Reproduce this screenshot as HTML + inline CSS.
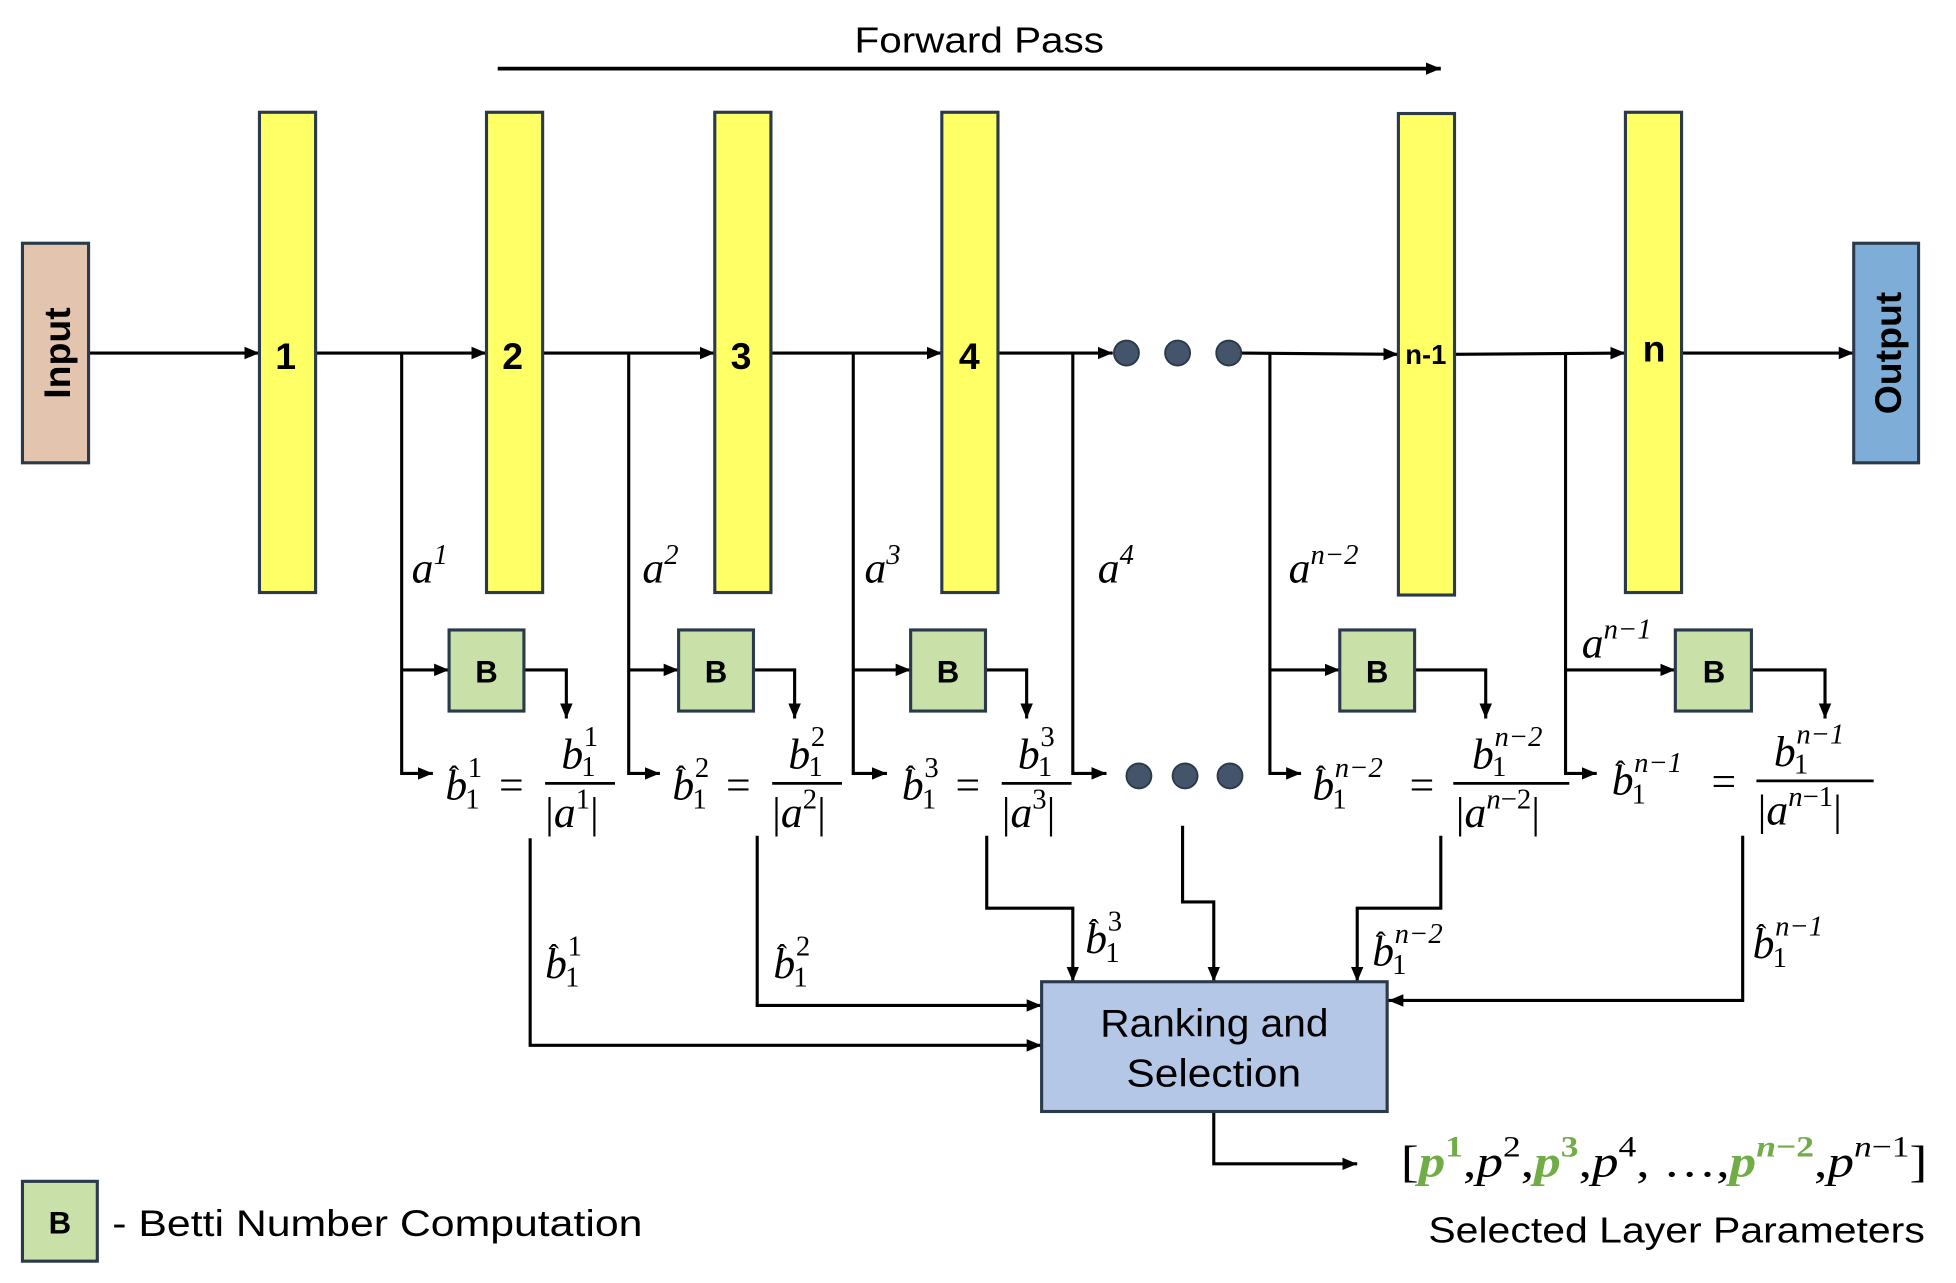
<!DOCTYPE html>
<html><head><meta charset="utf-8">
<style>
html,body{margin:0;padding:0;background:#fff;}
svg{display:block;}
.s{font-family:"Liberation Sans",sans-serif;}
.m{font-family:"Liberation Serif",serif;font-style:italic;}
.r{font-family:"Liberation Serif",serif;}
</style></head>
<body>
<svg width="1956" height="1283" viewBox="0 0 1568 1028.5" preserveAspectRatio="none" xmlns="http://www.w3.org/2000/svg">
<defs>
<marker id="a" markerUnits="userSpaceOnUse" markerWidth="14" markerHeight="14" refX="12" refY="7" orient="auto">
<path d="M0,2 L12,7 L0,12 Z" fill="#000"/>
</marker>
</defs>
<g stroke="#000" stroke-width="2.5" fill="none">
<line x1="399" y1="55" x2="1155" y2="55" stroke-width="3" marker-end="url(#a)"/>
<line x1="71" y1="283" x2="208" y2="283" marker-end="url(#a)"/>
<line x1="253" y1="283" x2="390" y2="283" marker-end="url(#a)"/>
<line x1="435" y1="283" x2="573" y2="283" marker-end="url(#a)"/>
<line x1="618" y1="283" x2="755" y2="283" marker-end="url(#a)"/>
<line x1="800" y1="283" x2="892" y2="283" marker-end="url(#a)"/>
<line x1="995" y1="283" x2="1121" y2="284" marker-end="url(#a)"/>
<line x1="1166" y1="284" x2="1303" y2="283" marker-end="url(#a)"/>
<line x1="1348" y1="283" x2="1486" y2="283" marker-end="url(#a)"/>
<polyline points="322,283 322,620 347,620" marker-end="url(#a)"/>
<polyline points="322,537 360,537" marker-end="url(#a)"/>
<polyline points="420,537 454,537 454,576" marker-end="url(#a)"/>
<polyline points="504,283 504,620 529,620" marker-end="url(#a)"/>
<polyline points="504,537 544,537" marker-end="url(#a)"/>
<polyline points="604,537 637,537 637,576" marker-end="url(#a)"/>
<polyline points="684,283 684,620 711,620" marker-end="url(#a)"/>
<polyline points="684,537 730,537" marker-end="url(#a)"/>
<polyline points="790,537 823,537 823,576" marker-end="url(#a)"/>
<polyline points="860,283 860,620 887,620" marker-end="url(#a)"/>
<polyline points="1018,283 1018,620 1043,620" marker-end="url(#a)"/>
<polyline points="1018,537 1074,537" marker-end="url(#a)"/>
<polyline points="1134,537 1191,537 1191,576" marker-end="url(#a)"/>
<polyline points="1255,283 1255,620 1280,620" marker-end="url(#a)"/>
<polyline points="1255,537 1343,537" marker-end="url(#a)"/>
<polyline points="1404,537 1463,537 1463,576" marker-end="url(#a)"/>
<polyline points="425,672 425,838 835,838" marker-end="url(#a)"/>
<polyline points="607,670 607,806 835,806" marker-end="url(#a)"/>
<polyline points="791,670 791,728 860,728 860,787" marker-end="url(#a)"/>
<polyline points="948,662 948,723 973,723 973,787" marker-end="url(#a)"/>
<polyline points="1155,670 1155,728 1088,728 1088,787" marker-end="url(#a)"/>
<polyline points="1397,670 1397,802 1113,802" marker-end="url(#a)"/>
<polyline points="973,891 973,933 1088,933" marker-end="url(#a)"/>
</g>
<g stroke="#2A3A4A" stroke-width="2.5">
<rect x="18" y="195" width="53" height="176" fill="#E3C4AE"/>
<rect x="1486" y="195" width="52" height="176" fill="#7EAED8"/>
<rect x="208" y="90" width="45" height="385" fill="#FFFF66"/>
<rect x="390" y="90" width="45" height="385" fill="#FFFF66"/>
<rect x="573" y="90" width="45" height="385" fill="#FFFF66"/>
<rect x="755" y="90" width="45" height="385" fill="#FFFF66"/>
<rect x="1121" y="91" width="45" height="386" fill="#FFFF66"/>
<rect x="1303" y="90" width="45" height="385" fill="#FFFF66"/>
<rect x="360" y="505" width="60" height="65" fill="#C9E0A8"/>
<rect x="544" y="505" width="60" height="65" fill="#C9E0A8"/>
<rect x="730" y="505" width="60" height="65" fill="#C9E0A8"/>
<rect x="1074" y="505" width="60" height="65" fill="#C9E0A8"/>
<rect x="1343" y="505" width="61" height="65" fill="#C9E0A8"/>
<rect x="18" y="947" width="60" height="64" fill="#C9E0A8"/>
<rect x="835" y="787" width="277" height="104" fill="#B4C7E7"/>
</g>
<g fill="#44546A" stroke="#2A3A4A" stroke-width="1.5">
<circle cx="903" cy="283" r="10"/><circle cx="944" cy="283" r="10"/><circle cx="985" cy="283" r="10"/>
<circle cx="913" cy="622" r="10"/><circle cx="950" cy="622" r="10"/><circle cx="986" cy="622" r="10"/>
</g>
<g class="s" fill="#000">
<text x="685" y="42" font-size="29" textLength="200" lengthAdjust="spacingAndGlyphs">Forward Pass</text>
<text transform="translate(56,283) rotate(-90)" font-size="30" font-weight="bold" text-anchor="middle">Input</text>
<text transform="translate(1524,283) rotate(-90)" font-size="30" font-weight="bold" text-anchor="middle">Output</text>
<g font-weight="bold" font-size="30" text-anchor="middle">
<text x="229" y="296">1</text><text x="411" y="296">2</text><text x="594" y="296">3</text><text x="777" y="296">4</text>
<text x="1143" y="292" font-size="22">n-1</text><text x="1326" y="290">n</text>
<text x="390" y="547" font-size="25">B</text><text x="574" y="547" font-size="25">B</text><text x="760" y="547" font-size="25">B</text>
<text x="1104" y="547" font-size="25">B</text><text x="1374" y="547" font-size="25">B</text><text x="48" y="989" font-size="25">B</text>
</g>
<text x="90" y="991" font-size="30" textLength="425" lengthAdjust="spacingAndGlyphs">- Betti Number Computation</text>
<text x="882" y="831" font-size="31" textLength="183" lengthAdjust="spacingAndGlyphs">Ranking and</text>
<text x="903" y="871" font-size="31" textLength="140" lengthAdjust="spacingAndGlyphs">Selection</text>
<text x="1145" y="996" font-size="29" textLength="398" lengthAdjust="spacingAndGlyphs">Selected Layer Parameters</text>
</g>
<g fill="#000" font-size="35">
<text class="m" x="330" y="467">a<tspan dy="-15" font-size="23" class="r">1</tspan></text>
<text class="m" x="515" y="467">a<tspan dy="-15" font-size="23" class="r">2</tspan></text>
<text class="m" x="693" y="467">a<tspan dy="-15" font-size="23" class="r">3</tspan></text>
<text class="m" x="880" y="467">a<tspan dy="-15" font-size="23" class="r">4</tspan></text>
<text class="m" x="1033" y="467">a<tspan dy="-15" font-size="23">n</tspan><tspan font-size="23" class="r">−2</tspan></text>
<text class="m" x="1268" y="527">a<tspan dy="-15" font-size="23">n</tspan><tspan font-size="23" class="r">−1</tspan></text>

<g>
<text class="m" x="357" y="641">b</text><text class="r" x="360" y="630" font-size="24">ˆ</text>
<text class="r" x="375" y="623" font-size="23">1</text><text class="r" x="373" y="648" font-size="23">1</text>
<text class="r" x="400" y="641">=</text>
<line x1="437" y1="628" x2="493" y2="628" stroke="#000" stroke-width="2.2"/>
<text class="m" x="450" y="616">b</text><text class="r" x="468" y="598" font-size="23">1</text><text class="r" x="466" y="622" font-size="23">1</text>
<text class="r" x="437" y="663">|<tspan class="m">a</tspan><tspan dy="-15" font-size="23">1</tspan><tspan dy="15">|</tspan></text>
</g>
<g transform="translate(182,0)">
<text class="m" x="357" y="641">b</text><text class="r" x="360" y="630" font-size="24">ˆ</text>
<text class="r" x="375" y="623" font-size="23">2</text><text class="r" x="373" y="648" font-size="23">1</text>
<text class="r" x="400" y="641">=</text>
<line x1="437" y1="628" x2="493" y2="628" stroke="#000" stroke-width="2.2"/>
<text class="m" x="450" y="616">b</text><text class="r" x="468" y="598" font-size="23">2</text><text class="r" x="466" y="622" font-size="23">1</text>
<text class="r" x="437" y="663">|<tspan class="m">a</tspan><tspan dy="-15" font-size="23">2</tspan><tspan dy="15">|</tspan></text>
</g>
<g transform="translate(366,0)">
<text class="m" x="357" y="641">b</text><text class="r" x="360" y="630" font-size="24">ˆ</text>
<text class="r" x="375" y="623" font-size="23">3</text><text class="r" x="373" y="648" font-size="23">1</text>
<text class="r" x="400" y="641">=</text>
<line x1="437" y1="628" x2="493" y2="628" stroke="#000" stroke-width="2.2"/>
<text class="m" x="450" y="616">b</text><text class="r" x="468" y="598" font-size="23">3</text><text class="r" x="466" y="622" font-size="23">1</text>
<text class="r" x="437" y="663">|<tspan class="m">a</tspan><tspan dy="-15" font-size="23">3</tspan><tspan dy="15">|</tspan></text>
</g>
<g>
<text class="m" x="1052" y="641">b</text><text class="r" x="1055" y="630" font-size="24">ˆ</text>
<text class="m" x="1070" y="623" font-size="23">n<tspan class="r">−2</tspan></text><text class="r" x="1068" y="648" font-size="23">1</text>
<text class="r" x="1130" y="641">=</text>
<line x1="1165" y1="628" x2="1258" y2="628" stroke="#000" stroke-width="2.2"/>
<text class="m" x="1180" y="616">b</text><text class="m" x="1198" y="598" font-size="23">n<tspan class="r">−2</tspan></text><text class="r" x="1196" y="622" font-size="23">1</text>
<text class="r" x="1167" y="663">|<tspan class="m">a</tspan><tspan dy="-15" font-size="23" class="m">n</tspan><tspan font-size="23">−2</tspan><tspan dy="15">|</tspan></text>
</g>
<g>
<text class="m" x="1292" y="637">b</text><text class="r" x="1295" y="626" font-size="24">ˆ</text>
<text class="m" x="1310" y="619" font-size="23">n<tspan class="r">−1</tspan></text><text class="r" x="1308" y="644" font-size="23">1</text>
<text class="r" x="1372" y="638">=</text>
<line x1="1408" y1="626" x2="1502" y2="626" stroke="#000" stroke-width="2.2"/>
<text class="m" x="1422" y="614">b</text><text class="m" x="1440" y="596" font-size="23">n<tspan class="r">−1</tspan></text><text class="r" x="1438" y="620" font-size="23">1</text>
<text class="r" x="1409" y="661">|<tspan class="m">a</tspan><tspan dy="-15" font-size="23" class="m">n</tspan><tspan font-size="23">−1</tspan><tspan dy="15">|</tspan></text>
</g>
<g>
<text class="m" x="437" y="784">b</text><text class="r" x="440" y="773" font-size="24">ˆ</text><text class="r" x="455" y="766" font-size="23">1</text><text class="r" x="453" y="791" font-size="23">1</text>
<text class="m" x="620" y="784">b</text><text class="r" x="623" y="773" font-size="24">ˆ</text><text class="r" x="638" y="766" font-size="23">2</text><text class="r" x="636" y="791" font-size="23">1</text>
<text class="m" x="870" y="764">b</text><text class="r" x="873" y="753" font-size="24">ˆ</text><text class="r" x="888" y="746" font-size="23">3</text><text class="r" x="886" y="771" font-size="23">1</text>
<text class="m" x="1100" y="774">b</text><text class="r" x="1103" y="763" font-size="24">ˆ</text><text class="m" x="1118" y="756" font-size="23">n<tspan class="r">−2</tspan></text><text class="r" x="1116" y="781" font-size="23">1</text>
<text class="m" x="1405" y="768">b</text><text class="r" x="1408" y="757" font-size="24">ˆ</text><text class="m" x="1423" y="750" font-size="23">n<tspan class="r">−1</tspan></text><text class="r" x="1421" y="775" font-size="23">1</text>
</g>
<text class="r" x="1123" y="943" font-size="36" textLength="422" lengthAdjust="spacingAndGlyphs">[<tspan class="m" fill="#70AD47" font-weight="bold">p</tspan><tspan dy="-16" font-size="24" fill="#70AD47" font-weight="bold">1</tspan><tspan dy="16">,</tspan><tspan class="m">p</tspan><tspan dy="-16" font-size="24">2</tspan><tspan dy="16">,</tspan><tspan class="m" fill="#70AD47" font-weight="bold">p</tspan><tspan dy="-16" font-size="24" fill="#70AD47" font-weight="bold">3</tspan><tspan dy="16">,</tspan><tspan class="m">p</tspan><tspan dy="-16" font-size="24">4</tspan><tspan dy="16">, …,</tspan><tspan class="m" fill="#70AD47" font-weight="bold">p</tspan><tspan dy="-16" font-size="24" fill="#70AD47" font-weight="bold" class="m">n</tspan><tspan font-size="24" fill="#70AD47" font-weight="bold">−2</tspan><tspan dy="16">,</tspan><tspan class="m">p</tspan><tspan dy="-16" font-size="24" class="m">n</tspan><tspan font-size="24">−1</tspan><tspan dy="16">]</tspan></text>
</g>
</svg>
</body></html>
